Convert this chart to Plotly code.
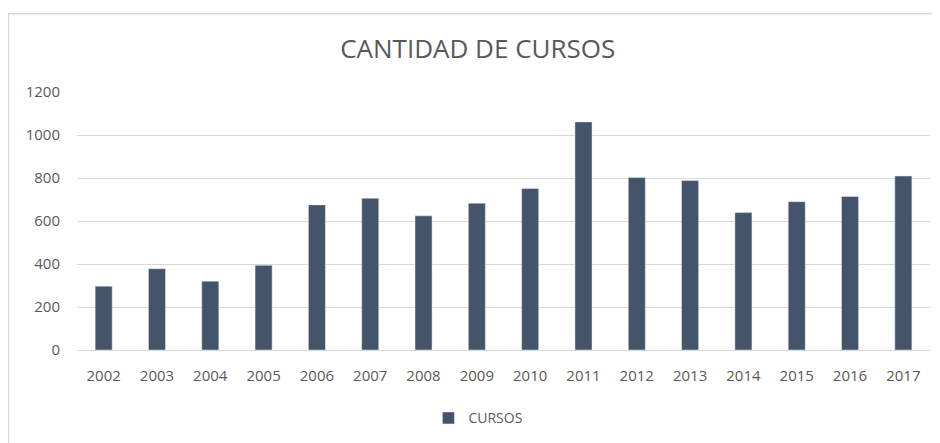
import plotly.graph_objects as go

years = ["2002", "2003", "2004", "2005", "2006", "2007", "2008", "2009",
         "2010", "2011", "2012", "2013", "2014", "2015", "2016", "2017"]
cursos = [297, 378, 320, 394, 675, 706, 624, 683,
          751, 1061, 802, 788, 639, 690, 714, 809]
series_name = "CURSOS"
title_text = "CANTIDAD DE CURSOS"
y_ticks = [0, 200, 400, 600, 800, 1000, 1200]

bar_color = "#44546A"
text_color = "#595959"
font_family = "Open Sans, Liberation Sans, sans-serif"

fig = go.Figure()
fig.add_trace(go.Bar(
    x=years, y=cursos, name=series_name,
    marker=dict(color=bar_color),
    showlegend=True,
))

fig.update_layout(
    width=932, height=435,
    paper_bgcolor="white", plot_bgcolor="white",
    margin=dict(l=69, r=10, t=84, b=92),
    bargap=0.68,
    font=dict(family=font_family, color=text_color, size=15),
    title=dict(text=title_text, x=0.504, xanchor="center", y=0.906, yanchor="middle",
               font=dict(size=26, color=text_color, family=font_family)),
    xaxis=dict(showgrid=False, showline=False, ticks="", ticklabelstandoff=15,
               tickfont=dict(size=15, color=text_color)),
    yaxis=dict(range=[0, 1200], tickvals=y_ticks, showgrid=True, gridcolor="#D9D9D9",
               gridwidth=1, zeroline=True, zerolinecolor="#D9D9D9", zerolinewidth=1,
               showline=False, ticks="", ticklabelstandoff=16,
               tickfont=dict(size=15, color=text_color)),
    legend=dict(orientation="h", x=0.47, xanchor="center", y=-0.26, yanchor="middle",
                font=dict(size=14, color=text_color), itemwidth=30),
    shapes=[dict(type="rect", xref="paper", yref="paper",
                 x0=-0.0804, x1=1.05, y0=-0.5, y1=1.303,
                 line=dict(color="#D9D9D9", width=1.5), fillcolor="rgba(0,0,0,0)", layer="below")],
)

fig.write_html("out.html")
